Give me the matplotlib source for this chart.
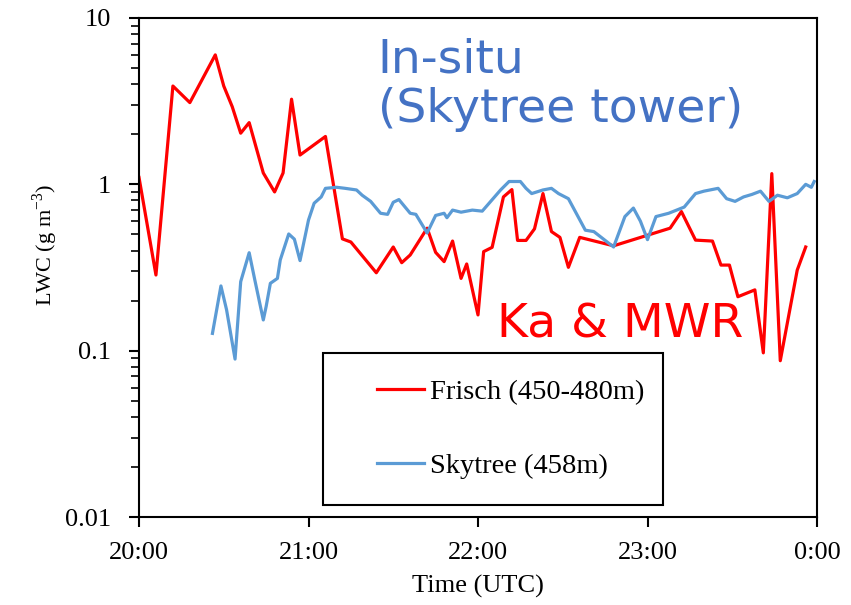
import matplotlib
matplotlib.use("Agg")
import matplotlib.pyplot as plt
from matplotlib.patches import Rectangle
from matplotlib.ticker import FixedLocator, NullFormatter

# minutes after 20:00 UTC
frisch_min = [0, 6, 12, 18, 27, 30, 33, 36, 39, 44, 48, 51, 54, 57, 66, 72, 75, 84,
              90, 93, 96, 102, 105, 108, 111, 114, 116, 120, 122, 125, 129, 132, 134,
              137, 140, 143, 146, 149, 152, 156, 168, 188, 192, 197, 203, 206, 209,
              212, 218, 221, 224, 227, 233, 236]
frisch_lwc = [1.1, 0.285, 3.9, 3.1, 6.0, 3.9, 2.93, 2.03, 2.35, 1.17, 0.90, 1.17, 3.25,
              1.50, 1.94, 0.47, 0.45, 0.294, 0.42, 0.338, 0.376, 0.545, 0.39, 0.343,
              0.456, 0.272, 0.332, 0.164, 0.394, 0.418, 0.84, 0.93, 0.46, 0.46, 0.54,
              0.88, 0.52, 0.48, 0.317, 0.48, 0.427, 0.545, 0.686, 0.462, 0.456, 0.327,
              0.327, 0.211, 0.232, 0.097, 1.16, 0.087, 0.305, 0.42]

skytree_min = [26, 29, 31, 34, 36, 39, 41, 44, 45, 46.5, 49, 50, 53, 55, 57, 58, 60,
               62, 64.5, 66, 70, 73, 77, 79, 82, 85.5, 88, 90, 92, 96, 98, 100, 102,
               105, 108, 109, 111, 114, 118, 121.5, 124.5, 128, 131, 135, 137, 139,
               143, 146, 148.5, 152, 158, 161, 168, 172, 175, 177.5, 180, 183, 187.5,
               193, 197, 200, 205, 208, 211, 214, 217, 220, 223, 226, 229.5, 233, 236,
               238, 239]
skytree_lwc = [0.127, 0.245, 0.176, 0.089, 0.26, 0.388, 0.266, 0.153, 0.184, 0.254,
               0.272, 0.351, 0.503, 0.468, 0.348, 0.42, 0.61, 0.77, 0.84, 0.946, 0.96,
               0.946, 0.925, 0.86, 0.79, 0.67, 0.66, 0.78, 0.81, 0.67, 0.66, 0.58, 0.51,
               0.65, 0.67, 0.63, 0.70, 0.68, 0.70, 0.69, 0.79, 0.925, 1.04, 1.04, 0.946,
               0.88, 0.925, 0.946, 0.88, 0.82, 0.53, 0.52, 0.42, 0.64, 0.72, 0.60,
               0.465, 0.64, 0.67, 0.73, 0.88, 0.91, 0.946, 0.82, 0.79, 0.84, 0.87, 0.91,
               0.79, 0.86, 0.83, 0.88, 1.0, 0.96, 1.04]

tick_min = [0, 60, 120, 180, 240]
tick_labels = ["20:00", "21:00", "22:00", "23:00", "0:00"]
y_major = [0.01, 0.1, 1, 10]
y_labels = ["0.01", "0.1", "1", "10"]

serif = "Liberation Serif"

fig = plt.figure(figsize=(8.51, 6.05), dpi=100)
ax = fig.add_axes([139 / 851, 1 - 517 / 605, 678 / 851, 499 / 605])

ax.plot(frisch_min, frisch_lwc, color="#FF0000", lw=2.3, label="Frisch (450-480m)")
ax.plot(skytree_min, skytree_lwc, color="#5B9BD5", lw=2.3, label="Skytree (458m)")

ax.set_xlabel("Time (UTC)", fontsize=19, family=serif, labelpad=8)
ax.set_ylabel("LWC (g m$^{\\mathregular{-3}}$)", fontsize=16, family=serif,
              labelpad=4)
ax.yaxis.label.set_y(0.545)

# legend frame drawn separately so it can be as loose as in the original
ax.add_patch(Rectangle((0.2714, 0.024), 0.5015, 0.3047, transform=ax.transAxes,
                       fill=False, edgecolor="black", lw=1.5, zorder=5))
ax.legend(loc="center left", bbox_to_anchor=(0.351, 0.176), frameon=False,
          prop={"family": serif, "size": 20.5}, handlelength=1.65, handletextpad=0.2,
          labelspacing=1.7, borderpad=0, borderaxespad=0)

ax.text(0.352, 0.96, "In-situ\n(Skytree tower)", transform=ax.transAxes,
        color="#4472C4", fontsize=34, family="DejaVu Sans", va="top", ha="left",
        linespacing=1.12)
ax.text(0.528, 0.34, "Ka & MWR", transform=ax.transAxes, color="#FF0000",
        fontsize=34, family="DejaVu Sans", va="bottom", ha="left")

# axes and ticks set last
ax.set_yscale("log")
ax.set_ylim(0.01, 10)
ax.set_xlim(0, 240)
ax.set_xticks(tick_min, tick_labels, fontfamily=serif, fontsize=19)
ax.set_yticks(y_major, y_labels, fontfamily=serif, fontsize=19)
minors = [m * d for d in y_major[:-1] for m in range(2, 10)]
ax.yaxis.set_minor_locator(FixedLocator(minors))
ax.yaxis.set_minor_formatter(NullFormatter())

for s in ax.spines.values():
    s.set_linewidth(1.5)
ax.tick_params(axis="x", which="major", length=7, width=1.5, pad=11)
ax.tick_params(axis="y", which="major", length=7, width=1.5, pad=13)
ax.tick_params(axis="y", which="minor", length=6, width=1.2, left=True,
               color="black")

fig.savefig("out.png", dpi=100)
